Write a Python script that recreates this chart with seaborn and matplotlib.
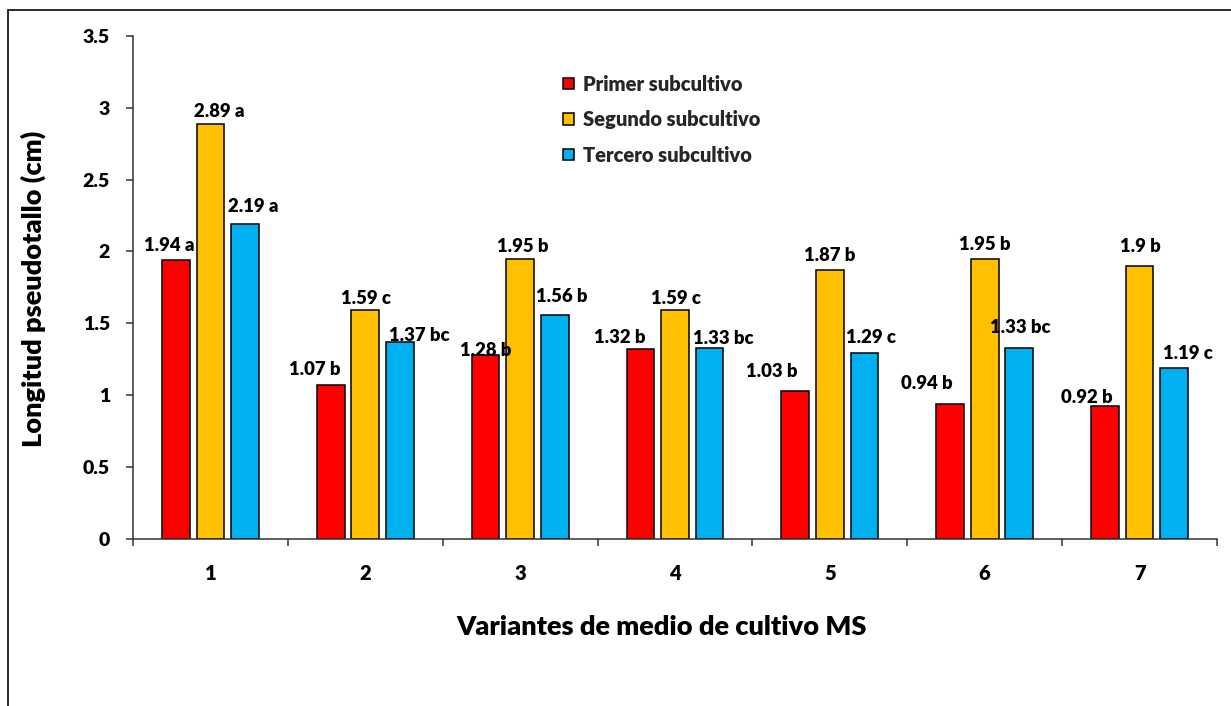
import numpy as np
import pandas as pd
import matplotlib
matplotlib.use("Agg")
import matplotlib.pyplot as plt
from matplotlib.patches import Rectangle
import seaborn as sns

# ---- data ----
variantes = ["1", "2", "3", "4", "5", "6", "7"]
series_names = ["Primer subcultivo", "Segundo subcultivo", "Tercero subcultivo"]
primer = [1.94, 1.07, 1.28, 1.32, 1.03, 0.94, 0.92]
segundo = [2.89, 1.59, 1.95, 1.59, 1.87, 1.95, 1.90]
tercero = [2.19, 1.37, 1.56, 1.33, 1.29, 1.33, 1.19]
letras_primer = ["a", "b", "b", "b", "b", "b", "b"]
letras_segundo = ["a", "c", "b", "c", "b", "b", "b"]
letras_tercero = ["a", "bc", "b", "bc", "c", "bc", "c"]
yticks = [0, 0.5, 1, 1.5, 2, 2.5, 3, 3.5]
ytick_labels = ["0", "0.5", "1", "1.5", "2", "2.5", "3", "3.5"]

# label placement offsets (pixels: dx from bar centre, dy of text centre above bar top)
label_offsets = [
    [(-6.6, 15.9), (-15.6, 16), (0.3, 5.4), (-20.8, 12.2), (-23.7, 20.6), (-23.6, 20.8), (-18.1, 10.4)],
    [(8.9, 13.5), (0.7, 12.9), (2.8, 12.8), (0.9, 12.9), (0.2, 15.7), (0.1, 15.2), (0.4, 20.7)],
    [(8.4, 18.3), (18.9, 7.8), (7.5, 18.8), (13.7, 10.2), (6, 17.3), (0.9, 21.5), (14, 15.3)],
]

colors = ["#FF0000", "#FFC000", "#00B0F0"]

df = pd.DataFrame({
    "variante": variantes * 3,
    "valor": primer + segundo + tercero,
    "subcultivo": [series_names[0]] * 7 + [series_names[1]] * 7 + [series_names[2]] * 7,
})
values = [primer, segundo, tercero]
letters = [letras_primer, letras_segundo, letras_tercero]

sns.set_theme(style="white")
plt.rcParams["font.family"] = ["Lato", "DejaVu Sans"]
W = "heavy"
plt.rcParams["font.weight"] = W

DPI = 100
fig = plt.figure(figsize=(12.31, 7.06), dpi=DPI)
ax = fig.add_axes([133 / 1231, 1 - 538.5 / 706, (1217 - 133) / 1231, (538.5 - 36) / 706])

sns.barplot(data=df, x="variante", y="valor", hue="subcultivo", order=variantes,
            hue_order=series_names, palette=colors, width=0.67, gap=0.2,
            edgecolor="black", linewidth=1.1, errorbar=None, ax=ax, saturation=1)

ax.set_xlim(-0.5, 6.5)
ax.set_ylim(0, 3.5)
ax.set_yticks(yticks)
ax.set_yticklabels(ytick_labels, fontsize=14, fontweight=W, color="black")

# category boundaries as major ticks, labels at centres as minor ticks
ax.set_xticks(np.arange(-0.5, 7.0, 1.0))
ax.set_xticklabels([])
ax.set_xticks(np.arange(0, 7), minor=True)
ax.set_xticklabels(variantes, minor=True, fontsize=14.5, fontweight=W, color="black")
ax.tick_params(axis="x", which="major", direction="out", length=5, width=1.1, color="#333333", bottom=True)
ax.tick_params(axis="x", which="minor", length=0, pad=18.4, bottom=True)
ax.tick_params(axis="y", direction="out", length=5, width=1.1, color="#333333", left=True, pad=11.5)

for s in ["top", "right"]:
    ax.spines[s].set_visible(False)
for s in ["left", "bottom"]:
    ax.spines[s].set_color("#333333")
    ax.spines[s].set_linewidth(1.1)

ax.set_ylabel("Longitud pseudotallo (cm)", fontsize=19.5, fontweight=W, color="black")
ax.set_xlabel("Variantes de medio de cultivo MS", fontsize=19.5, fontweight=W, color="black")
ax.yaxis.set_label_coords(-0.0923, 0.4965)
ax.xaxis.set_label_coords(0.4875, -0.176)
ax.xaxis.label.set_va("center")
ax.yaxis.label.set_va("center")

# data labels
px2pt = 72.0 / DPI
for ci, cont in enumerate(ax.containers):
    for bi, bar in enumerate(cont.patches):
        dx, dy = label_offsets[ci][bi]
        xc = bar.get_x() + bar.get_width() / 2
        h = bar.get_height()
        v = values[ci][bi]
        txt = f"{v:g} {letters[ci][bi]}"
        ax.annotate(txt, xy=(xc, h), xytext=(dx * px2pt, (dy - 6.6) * px2pt),
                    textcoords="offset points", ha="center", va="baseline",
                    fontsize=13.3, fontweight=W, color="black")

leg = ax.legend(loc="upper left", bbox_to_anchor=(0.397, 0.923), frameon=False,
                borderpad=0, borderaxespad=0, handlelength=0.52, handleheight=0.52,
                handletextpad=0.45, labelspacing=0.82, prop={"size": 14.5, "weight": W})
for h in leg.legend_handles:
    h.set_edgecolor("black")
    h.set_linewidth(1.1)

# outer chart-area border (extends past the right and bottom edges)
fig.patches.append(Rectangle((8 / 1231, -0.1), 1.2, (706 - 10) / 706 + 0.1,
                             transform=fig.transFigure, fill=False,
                             edgecolor="#1a1a1a", linewidth=1.3, zorder=0))

fig.savefig("out.png", dpi=DPI)
